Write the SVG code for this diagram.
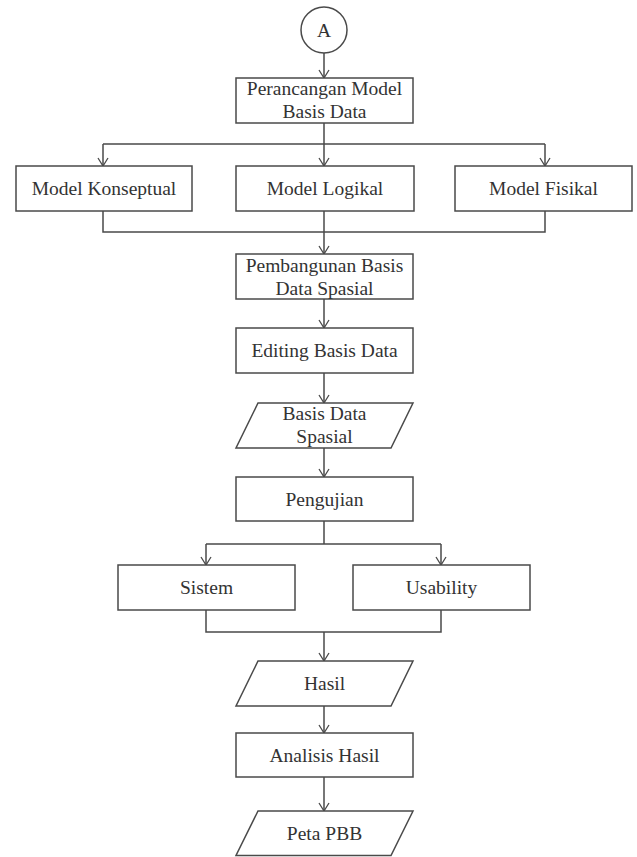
<svg xmlns="http://www.w3.org/2000/svg" width="637" height="857" viewBox="0 0 637 857">
  <style>
    .shape { fill: #ffffff; stroke: #4a4a4a; stroke-width: 1.5; }
    .wire { fill: none; stroke: #4a4a4a; stroke-width: 1.5; }
    .label { font-family: 'Liberation Serif', 'DejaVu Serif', serif; font-size: 19.5px; fill: #333333; text-anchor: middle; }
  </style>
  <defs>
    <!-- open V arrowhead, drawn along +x so orient="auto" turns it with the line -->
    <marker id="arrow" viewBox="0 0 10 12" refX="9" refY="6" markerWidth="10" markerHeight="12" markerUnits="userSpaceOnUse" orient="auto">
      <path d="M1,1 L9,6 L1,11" fill="none" stroke="#4a4a4a" stroke-width="1.3"/>
    </marker>
  </defs>
  <rect width="637" height="857" fill="#ffffff"/>

  <!-- connectors -->
  <g id="connectors">
    <path class="wire" d="M324,53 V78" marker-end="url(#arrow)"/>
    <path class="wire" d="M324,123 V144 M103,144 H545"/>
    <path class="wire" d="M103,144 V166" marker-end="url(#arrow)"/>
    <path class="wire" d="M324,144 V166" marker-end="url(#arrow)"/>
    <path class="wire" d="M545,144 V166" marker-end="url(#arrow)"/>
    <path class="wire" d="M103,211 V232 H545 V211"/>
    <path class="wire" d="M324,211 V254" marker-end="url(#arrow)"/>
    <path class="wire" d="M324,299 V328" marker-end="url(#arrow)"/>
    <path class="wire" d="M324,373 V403" marker-end="url(#arrow)"/>
    <path class="wire" d="M324,448 V477" marker-end="url(#arrow)"/>
    <path class="wire" d="M324,521 V544 M206,544 H441"/>
    <path class="wire" d="M206,544 V565" marker-end="url(#arrow)"/>
    <path class="wire" d="M441,544 V565" marker-end="url(#arrow)"/>
    <path class="wire" d="M206,610 V632 H441 V610"/>
    <path class="wire" d="M324,632 V661" marker-end="url(#arrow)"/>
    <path class="wire" d="M324,706 V733" marker-end="url(#arrow)"/>
    <path class="wire" d="M324,777 V811" marker-end="url(#arrow)"/>
  </g>

  <!-- nodes -->
  <g id="connector-a">
    <circle class="shape" cx="324" cy="30" r="23"/>
    <text class="label" x="324" y="36.5">A</text>
  </g>
  <g id="perancangan">
    <rect class="shape" x="236" y="78" width="177" height="45"/>
    <text class="label" x="324.5" y="95">Perancangan Model</text>
    <text class="label" x="324.5" y="118">Basis Data</text>
  </g>
  <g id="model-konseptual">
    <rect class="shape" x="16" y="166" width="176" height="45"/>
    <text class="label" x="104" y="195">Model Konseptual</text>
  </g>
  <g id="model-logikal">
    <rect class="shape" x="236" y="166" width="178" height="45"/>
    <text class="label" x="325" y="195">Model Logikal</text>
  </g>
  <g id="model-fisikal">
    <rect class="shape" x="455" y="166" width="177" height="45"/>
    <text class="label" x="543.5" y="195">Model Fisikal</text>
  </g>
  <g id="pembangunan">
    <rect class="shape" x="236" y="254" width="177" height="45"/>
    <text class="label" x="324.5" y="271.5">Pembangunan Basis</text>
    <text class="label" x="324.5" y="294.5">Data Spasial</text>
  </g>
  <g id="editing">
    <rect class="shape" x="236" y="328" width="177" height="45"/>
    <text class="label" x="324.5" y="357">Editing Basis Data</text>
  </g>
  <g id="basis-data-spasial">
    <polygon class="shape" points="258,403 413,403 391,448 236,448"/>
    <text class="label" x="324.5" y="420">Basis Data</text>
    <text class="label" x="324.5" y="443">Spasial</text>
  </g>
  <g id="pengujian">
    <rect class="shape" x="236" y="477" width="177" height="44"/>
    <text class="label" x="324.5" y="505.5">Pengujian</text>
  </g>
  <g id="sistem">
    <rect class="shape" x="118" y="565" width="177" height="45"/>
    <text class="label" x="206.5" y="594">Sistem</text>
  </g>
  <g id="usability">
    <rect class="shape" x="353" y="565" width="177" height="45"/>
    <text class="label" x="441.5" y="594">Usability</text>
  </g>
  <g id="hasil">
    <polygon class="shape" points="258,661 413,661 391,706 236,706"/>
    <text class="label" x="324.5" y="690">Hasil</text>
  </g>
  <g id="analisis-hasil">
    <rect class="shape" x="236" y="733" width="177" height="44"/>
    <text class="label" x="324.5" y="761.5">Analisis Hasil</text>
  </g>
  <g id="peta-pbb">
    <polygon class="shape" points="258,811 413,811 391,855.5 236,855.5"/>
    <text class="label" x="324.5" y="840">Peta PBB</text>
  </g>
</svg>
